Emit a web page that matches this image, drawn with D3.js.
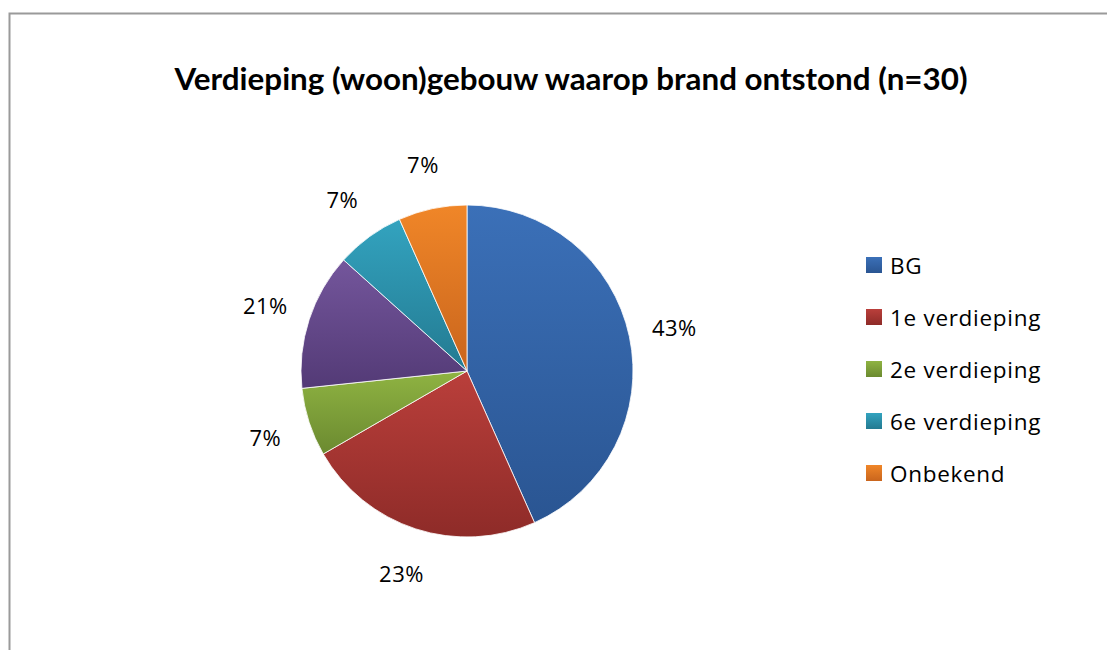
<!DOCTYPE html>
<html><head><meta charset="utf-8">
<script src="https://cdn.jsdelivr.net/npm/d3@7/dist/d3.min.js"></script>
<style>body{margin:0;background:#fff}svg{display:block}</style>
</head><body>
<svg id="c" width="1107" height="650"></svg>
<script>
// Data (counts out of n=30, clockwise from 12 o'clock)
const categories = ["BG", "1e verdieping", "2e verdieping", "3e verdieping", "6e verdieping", "Onbekend"];
const counts = [13, 7, 2, 4, 2, 2];
const labels = ["43%", "23%", "7%", "21%", "7%", "7%"];
const legendItems = ["BG", "1e verdieping", "2e verdieping", "6e verdieping", "Onbekend"];
const colorsTop = ["#3b70b8", "#ba3f3b", "#8fb342", "#74569c", "#33a3bf", "#f08628"];
const colorsBot = ["#2a5592", "#8e2b28", "#6b8a30", "#533a76", "#237a91", "#c9651d"];
const title = "Verdieping (woon)gebouw waarop brand ontstond (n=30)";

const svg = d3.select("#c");
const defs = svg.append("defs");
categories.forEach((c, i) => {
  const g = defs.append("linearGradient").attr("id", "g" + i)
    .attr("x1", 0).attr("y1", 0).attr("x2", 0).attr("y2", 1);
  g.append("stop").attr("offset", "0%").attr("stop-color", colorsTop[i]);
  g.append("stop").attr("offset", "100%").attr("stop-color", colorsBot[i]);
});

// frame
svg.append("rect").attr("x", 9.5).attr("y", 13.5).attr("width", 1200).attr("height", 800)
  .attr("fill", "#fff").attr("stroke", "#9a9a9a").attr("stroke-width", 2);

svg.append("text").attr("x", 571).attr("y", 90).attr("text-anchor", "middle")
  .attr("font-family", "Lato, 'Open Sans', sans-serif").attr("font-weight", "bold")
  .attr("font-size", 31).attr("fill", "#000").attr("textLength", 793)
  .attr("lengthAdjust", "spacingAndGlyphs").text(title);

const cx = 467, cy = 371, r = 166;
const pie = d3.pie().sort(null).value(d => d)(counts);
const arc = d3.arc().innerRadius(0).outerRadius(r);
const labelArc = d3.arc().innerRadius(212).outerRadius(212);
const g = svg.append("g").attr("transform", `translate(${cx},${cy})`);
g.selectAll("path").data(pie).join("path")
  .attr("d", arc).attr("fill", (d, i) => `url(#g${i})`)
  .attr("stroke", "#fff").attr("stroke-width", 0.8);
g.selectAll("text").data(pie).join("text")
  .attr("transform", d => `translate(${labelArc.centroid(d)})`)
  .attr("text-anchor", "middle").attr("dominant-baseline", "central")
  .attr("font-family", "'Open Sans', sans-serif").attr("font-size", 22).attr("fill", "#000")
  .attr("letter-spacing", 0.5)
  .text((d, i) => labels[i]);

const color = d3.scaleOrdinal().domain(categories).range(categories.map((c, i) => `url(#g${i})`));
const ly = d3.scalePoint().domain(legendItems).range([265, 473]);
const lg = svg.append("g");
const items = lg.selectAll("g").data(legendItems).join("g")
  .attr("transform", d => `translate(866,${ly(d)})`);
items.append("rect").attr("x", 0).attr("y", -8).attr("width", 16).attr("height", 16)
  .attr("fill", d => color(d));
items.append("text").attr("x", 24).attr("y", 0).attr("dominant-baseline", "central")
  .attr("font-family", "'Open Sans', sans-serif").attr("font-size", 22.5).attr("fill", "#000")
  .attr("letter-spacing", 0.7)
  .text(d => d);
</script>
</body></html>
